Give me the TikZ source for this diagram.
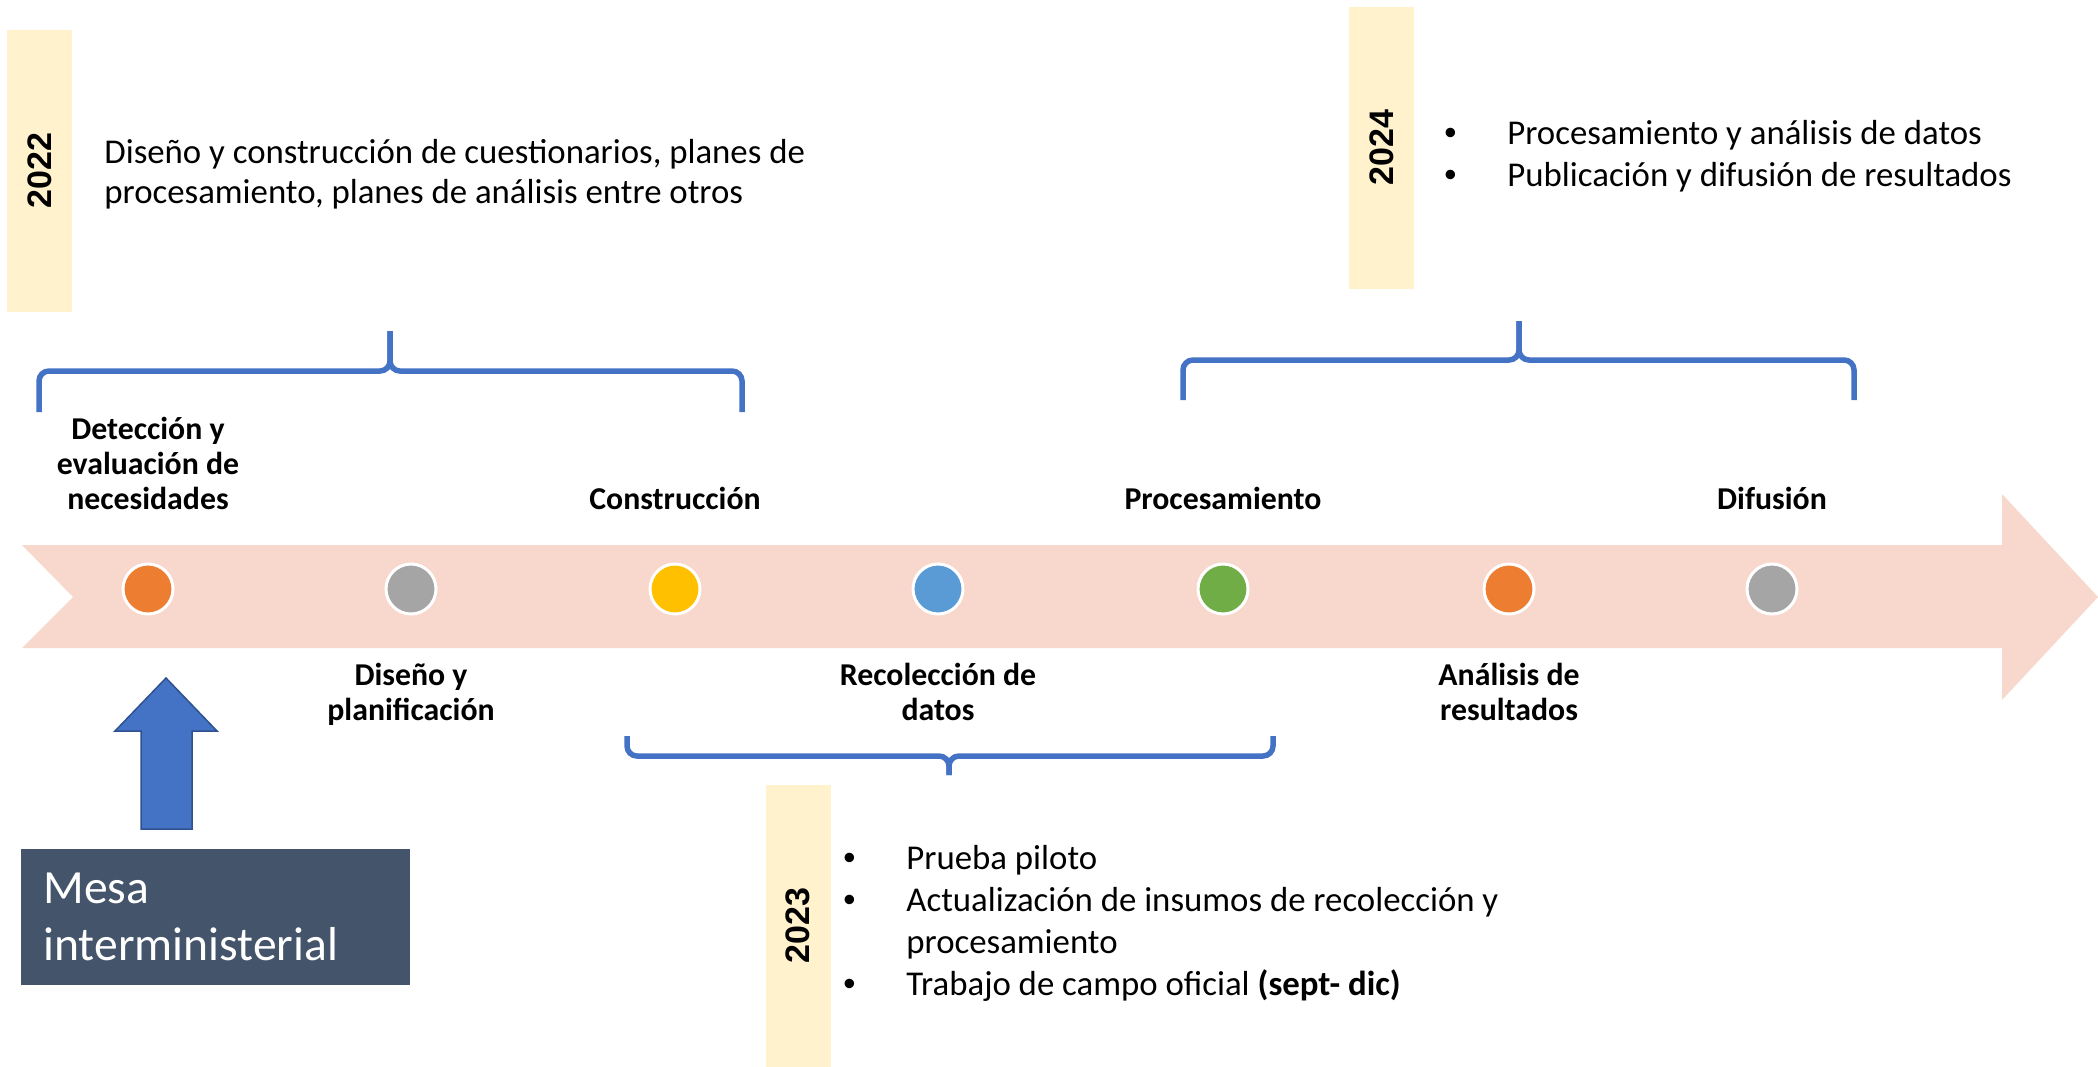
\documentclass[tikz,border=0pt]{standalone}
\usepackage{fontspec}
\setmainfont{Carlito}
\newfontfamily\yearfont{Liberation Sans}
\usetikzlibrary{positioning}

\definecolor{banda}{HTML}{F8D7CD}
\definecolor{amarillo}{HTML}{FFF2CC}
\definecolor{llaveazul}{HTML}{4472C4}
\definecolor{bordeazul}{HTML}{2F528F}
\definecolor{mesagris}{HTML}{44546A}
\definecolor{naranja}{HTML}{ED7D31}
\definecolor{gris}{HTML}{A5A5A5}
\definecolor{oro}{HTML}{FFC000}
\definecolor{celeste}{HTML}{5B9BD5}
\definecolor{verde}{HTML}{70AD47}

\begin{document}
\begin{tikzpicture}[x=0.5pt, y=-0.5pt, node distance=21pt,
    hito/.style={circle, draw=white, line width=1.5pt, minimum size=25pt, inner sep=0pt},
    etiqueta/.style={align=center, inner sep=0pt, font=\fontsize{15.9}{17.5}\selectfont\bfseries,
        execute at begin node=\strut, execute at end node=\strut},
    yearbox/.style={fill=amarillo, rotate=90, minimum width=141pt, minimum height=32.5pt,
        inner sep=0pt, font=\yearfont\bfseries\fontsize{17}{20}\selectfont},
    texto/.style={align=left, inner sep=0pt, font=\fontsize{17.4}{20}\selectfont},
    lista/.style={inner sep=0pt, font=\fontsize{17.4}{21}\selectfont},
    llave/.style={draw=llaveazul, line width=2.75pt, rounded corners=5pt},
    mesa/.style={fill=mesagris, text=white, minimum width=194.5pt, minimum height=68pt,
        text width=172pt, align=left, inner sep=0pt, font=\fontsize{23.8}{28.5}\selectfont}]
  \useasboundingbox (0,0) rectangle (2098,1066);

  % linea de tiempo
  \fill[banda] (22,545) -- (2002,545) -- (2002,494) -- (2098,597) -- (2002,700)
    -- (2002,648) -- (22,648) -- (73,597) -- cycle;

  \node[hito, fill=naranja] (c1) at (148,589) {};
  \node[hito, fill=gris] (c2) at (411,589) {};
  \node[hito, fill=oro] (c3) at (675,589) {};
  \node[hito, fill=celeste] (c4) at (938,589) {};
  \node[hito, fill=verde] (c5) at (1223,589) {};
  \node[hito, fill=naranja] (c6) at (1509,589) {};
  \node[hito, fill=gris] (c7) at (1772,589) {};

  \node[etiqueta, above=of c1] (deteccion) {Detección y\\evaluación de\\necesidades};
  \node[etiqueta, below=23.5pt of c2] (diseno) {Diseño y\\planificación};
  \node[etiqueta, above=of c3] (construccion) {Construcción};
  \node[etiqueta, below=23.5pt of c4] (recoleccion) {Recolección de\\datos};
  \node[etiqueta, above=of c5] (procesamiento) {Procesamiento};
  \node[etiqueta, below=23.5pt of c6] (analisis) {Análisis de\\resultados};
  \node[etiqueta, above=of c7] (difusion) {Difusión};

  % llaves
  \draw[llave] (39,412) |- (390,371) -- (390,331);
  \draw[llave] (742,412) |- (390,371) -- (390,331);
  \draw[llave] (1183,400) |- (1519,360) -- (1519,321);
  \draw[llave] (1854,400) |- (1519,360) -- (1519,321);
  \draw[llave] (627,736) |- (949,756) -- (949,775);
  \draw[llave] (1273,736) |- (949,756) -- (949,775);

  % 2022
  \node[yearbox] (y2022) at (39.5,170.5) {2022};
  \node[texto, anchor=west] (t2022) at (104,174) {Diseño y construcción de cuestionarios, planes de\\procesamiento, planes de análisis entre otros};

  % 2024
  \node[yearbox] (y2024) at (1381.5,147.5) {2024};
  \node[lista, anchor=west] (t2024) at (1444,157.5) {\begin{tabular}{@{}p{31.5pt}@{}l@{}}
    {\yearfont\textbullet} & Procesamiento y análisis de datos\\
    {\yearfont\textbullet} & Publicación y difusión de resultados
  \end{tabular}};

  % 2023
  \node[yearbox] (y2023) at (798,925.5) {2023};
  \node[lista, anchor=west] (t2023) at (843,924.5) {\begin{tabular}{@{}p{31.5pt}@{}l@{}}
    {\yearfont\textbullet} & Prueba piloto\\
    {\yearfont\textbullet} & Actualización de insumos de recolección y\\
                & procesamiento\\
    {\yearfont\textbullet} & Trabajo de campo oficial \textbf{(sept- dic)}
  \end{tabular}};

  % mesa interministerial
  \filldraw[fill=llaveazul, draw=bordeazul, line width=0.75pt] (166,678) -- (217,731)
    -- (192,731) -- (192,829) -- (141,829) -- (141,731) -- (115,731) -- cycle;
  \node[mesa] (mesa) at (215.5,917) {Mesa\\interministerial};
\end{tikzpicture}
\end{document}
